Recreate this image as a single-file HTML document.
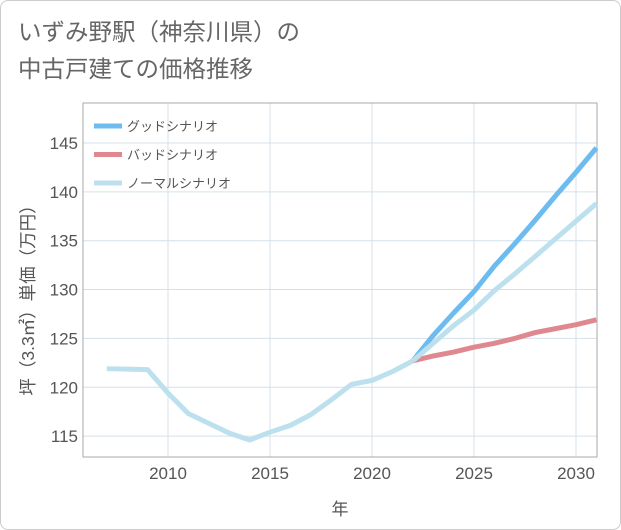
<!DOCTYPE html>
<html><head><meta charset="utf-8"><style>
body{margin:0;background:#fff;}
#wrap{position:relative;width:619px;height:528px;border:1px solid #ccc;border-radius:8px;background:#fff;font-family:"Liberation Sans","Noto Sans CJK JP",sans-serif;overflow:hidden}
#title{position:absolute;left:17px;top:13px;font-size:23.5px;line-height:37px;color:#666;}
</style></head><body>
<div id="wrap">
<div id="title">いずみ野駅（神奈川県）の<br>中古戸建ての価格推移</div>
<svg id="chart" width="621" height="530" style="position:absolute;left:-1px;top:-1px"></svg>
</div>
<script>
const years=[2007,2008,2009,2010,2011,2012,2013,2014,2015,2016,2017,2018,2019,2020,2021,2022];
const histVals=[121.9,121.85,121.8,119.4,117.3,116.3,115.3,114.6,115.4,116.1,117.2,118.7,120.3,120.7,121.6,122.7];
const futYears=[2022,2023,2024,2025,2026,2027,2028,2029,2030,2031];
const goodVals=[122.7,125.3,127.6,129.8,132.4,134.7,137.1,139.6,142.0,144.5];
const badVals=[122.7,123.2,123.6,124.1,124.5,125.0,125.6,126.0,126.4,126.9];
const normalVals=[122.7,124.5,126.3,127.9,129.9,131.6,133.4,135.2,137.0,138.8];
const xTicks=[2010,2015,2020,2025,2030];
const yTicks=[115,120,125,130,135,140,145];
const L=83,R=597,T=103,B=457;
const x=v=>168+(v-2010)*20.4;
const y=v=>143+(145-v)*9.77;
const svg=document.getElementById('chart');
const NS='http://www.w3.org/2000/svg';
function mk(t,a){const e=document.createElementNS(NS,t);for(const k in a)e.setAttribute(k,a[k]);svg.appendChild(e);return e;}
xTicks.forEach(t=>{const l=mk('line',{x1:x(t),x2:x(t),y1:T,y2:B,stroke:'#d5e0ea','stroke-width':1});


const tx=mk('text',{x:x(t),y:479,'text-anchor':'middle','font-size':17,fill:'#555','font-family':'Liberation Sans,sans-serif'});tx.textContent=t;

});
yTicks.forEach(t=>{const l=mk('line',{x1:L,x2:R,y1:y(t),y2:y(t),stroke:'#d5e0ea','stroke-width':1});


const tx=mk('text',{x:78,y:y(t)+6,'text-anchor':'end','font-size':17,fill:'#555','font-family':'Liberation Sans,sans-serif'});tx.textContent=t;

});
const fr=mk('rect',{x:L,y:T,width:R-L,height:B-T,fill:'none',stroke:'#aaa','stroke-width':1});


function line(xs,vs,col,name){const p=mk('polyline',{points:xs.map((v,i)=>x(v)+','+y(vs[i])).join(' '),fill:'none',stroke:col,'stroke-width':5,'stroke-linejoin':'round'});

}
line(futYears,goodVals,'#6cbcf0','good-scenario-line');
line(futYears,badVals,'#e08890','bad-scenario-line');
line(futYears,normalVals,'#bde0ee','normal-scenario-line');
line(years,histVals,'#bde0ee','historical-line');
const leg=[['グッドシナリオ','#6cbcf0'],['バッドシナリオ','#e08890'],['ノーマルシナリオ','#bde0ee']];
leg.forEach((d,i)=>{const yy=126+i*28.5;
const l=mk('line',{x1:94,x2:122,y1:yy,y2:yy,stroke:d[1],'stroke-width':5});


const t=mk('text',{x:127,y:yy+5,'font-size':13,fill:'#555','font-family':'Liberation Sans,Noto Sans CJK JP,sans-serif'});t.textContent=d[0];

});
const xt=mk('text',{x:340,y:515,'text-anchor':'middle','font-size':17,fill:'#555','font-family':'Liberation Sans,Noto Sans CJK JP,sans-serif'});xt.textContent='年';


const yt=mk('text',{x:0,y:0,transform:'translate(34,296) rotate(-90)','text-anchor':'middle','font-size':17.5,fill:'#555','font-family':'Liberation Sans,Noto Sans CJK JP,sans-serif'});yt.textContent='坪（3.3㎡）単価（万円）';


</script>
</body></html>
